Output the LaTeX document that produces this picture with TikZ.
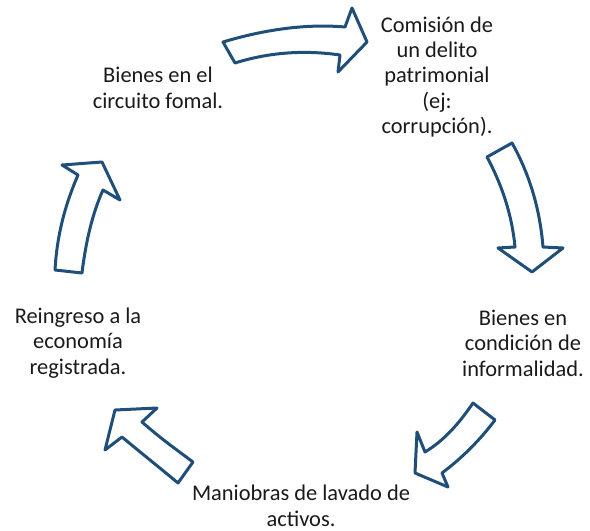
\documentclass[tikz,border=0pt]{standalone}
\usepackage{fontspec}
\setmainfont{Carlito}
\definecolor{arrowblue}{HTML}{1F4E79}
\definecolor{txt}{HTML}{1A1A1A}
\begin{document}
\begin{tikzpicture}[x=1bp,y=-1bp,
  bigarrow/.style={draw=arrowblue,fill=white,line width=3bp,line join=round},
  lbl/.style={align=center,font=\fontsize{22.5}{25.5}\selectfont,text=txt,inner sep=0pt}]
\useasboundingbox (0,0) rectangle (590,531);
% arrows
\path[bigarrow] (223,42) .. controls (270,28) and (310,24) .. (345,27) -- (352,8) -- (367,42) -- (338,72) -- (340,55) .. controls (305,50) and (270,52) .. (235,63) -- cycle;
\path[bigarrow] (487,157) -- (512,143) .. controls (530,175) and (540,210) .. (543,247) -- (563,248) -- (532,272) -- (498,248) -- (515,247) .. controls (512,215) and (502,185) .. (487,157) -- cycle;
\path[bigarrow] (473,403) -- (495,420) .. controls (480,440) and (462,458) .. (442,473) -- (448,487) -- (415,473) -- (417,432) -- (425,452) .. controls (445,440) and (460,422) .. (473,403) -- cycle;
\path[bigarrow] (193,462) -- (178,483) .. controls (160,468) and (140,452) .. (122,437) -- (105,450) -- (115,410) -- (157,408) -- (142,422) .. controls (160,438) and (177,450) .. (193,462) -- cycle;
\path[bigarrow] (55,270) -- (82,273) .. controls (86,240) and (93,212) .. (103,190) -- (120,200) -- (102,162) -- (62,165) -- (78,175) .. controls (65,205) and (57,235) .. (55,270) -- cycle;
% labels
\node[lbl] (comision) at (437,77) {Comisión de\\un delito\\patrimonial\\(ej:\\corrupción).};
\node[lbl] (circuito) at (158,88) {Bienes en el\\circuito fomal.};
\node[lbl] (informal) at (523,343) {Bienes en\\condición de\\informalidad.};
\node[lbl] (maniobras) at (301,506) {Maniobras de lavado de\\activos.};
\node[lbl] (reingreso) at (78,343) {Reingreso a la\\economía\\registrada.};
\end{tikzpicture}
\end{document}
